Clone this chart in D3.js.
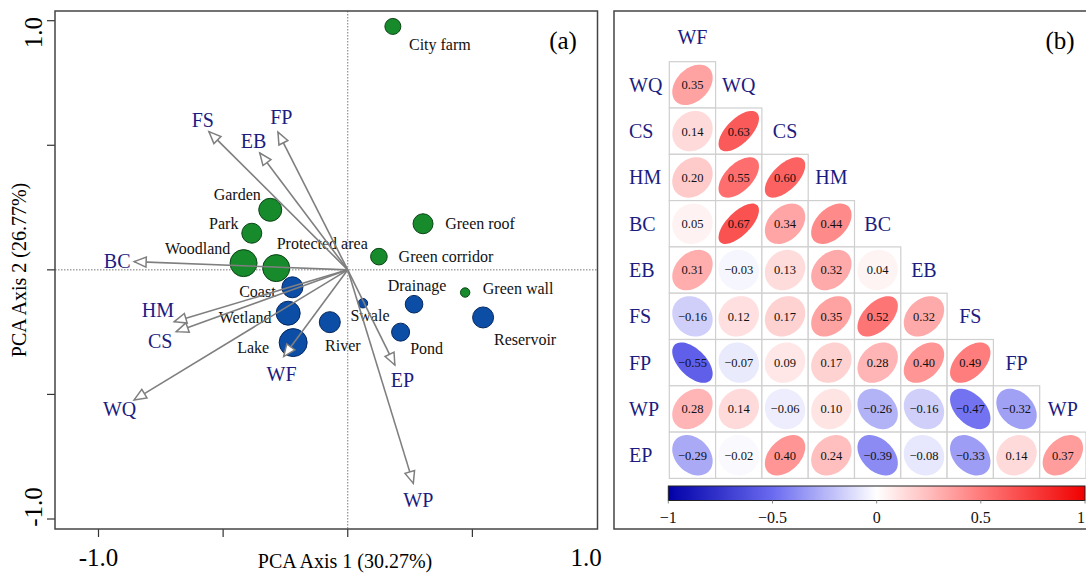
<!DOCTYPE html>
<html>
<head>
    <meta charset="utf-8">
    <title>PCA biplot and correlation matrix</title>
    <script src="https://cdn.jsdelivr.net/npm/d3@7/dist/d3.min.js"></script>
    <style>
        body { margin: 0; background: #fff; }
        text { font-family: "Liberation Serif", "Times New Roman", serif; }
    </style>
</head>
<body>
<script>
    // ---- panel (a): PCA sites ----
    var sites    = ["City farm", "Garden", "Park", "Woodland", "Protected area", "Green roof", "Green corridor", "Green wall",
                    "Coast", "Wetland", "Lake", "River", "Swale", "Drainage", "Pond", "Reservoir"];
    var sitePC1  = [0.181, -0.311, -0.385, -0.418, -0.287, 0.302, 0.125, 0.471,
                    -0.222, -0.239, -0.219, -0.072, 0.061, 0.266, 0.212, 0.543];
    var sitePC2  = [0.977, 0.241, 0.147, 0.027, 0.007, 0.185, 0.053, -0.091,
                    -0.070, -0.174, -0.292, -0.210, -0.134, -0.138, -0.250, -0.191];
    var siteSize = [8, 11.5, 10, 13.5, 13.5, 10, 8.3, 4.7,
                    10.5, 12, 14, 10.5, 4.7, 8.8, 9, 10.5];
    var siteType = ["green", "green", "green", "green", "green", "green", "green", "green",
                    "blue", "blue", "blue", "blue", "blue", "blue", "blue", "blue"];

    // ---- panel (a): variable loadings ----
    var loadVars = ["FS", "EB", "FP", "BC", "HM", "CS", "WQ", "WF", "EP", "WP"];
    var loadPC1  = [-0.557, -0.353, -0.280, -0.857, -0.696, -0.688, -0.857, -0.257, 0.189, 0.263];
    var loadPC2  = [0.555, 0.469, 0.553, 0.033, -0.208, -0.248, -0.522, -0.348, -0.382, -0.857];

    var pcaTicks = [-1, -0.5, 0, 0.5, 1];

    // ---- panel (b): correlations (lower triangle) ----
    var corrCols = ["WF", "WQ", "CS", "HM", "BC", "EB", "FS", "FP", "WP"];
    var corrRows = ["WQ", "CS", "HM", "BC", "EB", "FS", "FP", "WP", "EP"];
    var corrVals = [
        [0.35],
        [0.14, 0.63],
        [0.20, 0.55, 0.60],
        [0.05, 0.67, 0.34, 0.44],
        [0.31, -0.03, 0.13, 0.32, 0.04],
        [-0.16, 0.12, 0.17, 0.35, 0.52, 0.32],
        [-0.55, -0.07, 0.09, 0.17, 0.28, 0.40, 0.49],
        [0.28, 0.14, -0.06, 0.10, -0.26, -0.16, -0.47, -0.32],
        [-0.29, -0.02, 0.40, 0.24, -0.39, -0.08, -0.33, 0.14, 0.37]
    ];
    var cbTicks = [-1, -0.5, 0, 0.5, 1];

    // label placement tweaks (px), layout only
    var siteLabelOff = {
        "City farm": [47, 18], "Garden": [-33, -15], "Park": [-28, -10], "Woodland": [-46, -15],
        "Protected area": [46, -25], "Green roof": [57, 0], "Green corridor": [67, 0], "Green wall": [53, -4],
        "Coast": [-35, 4], "Wetland": [-43, 4], "Lake": [-40, 5], "River": [13, 23],
        "Swale": [7, 12], "Drainage": [3, -19], "Pond": [26, 16], "Reservoir": [42, 22]
    };
    var varLabelNudge = { FS: [6, 0], EB: [4, 2], FP: [11, 0], HM: [0, -17], CS: [0, 4], WF: [8, 4] };

    var navy = "#1c1c80";
    var W = 1086, H = 574;

    var svg = d3.select("body").append("svg")
        .attr("width", W)
        .attr("height", H);

    svg.append("rect").attr("width", W).attr("height", H).attr("fill", "#fff");

    // =================== (a) ===================
    var x = d3.scaleLinear().domain([-1, 1]).range([98.5, 597]);
    var y = d3.scaleLinear().domain([-1, 1]).range([519, 20.7]);
    var rScale = d3.scaleLinear().domain([0, 14]).range([0, 14]);
    var frameA = { x0: 55, y0: 11, x1: 597.5, y1: 529 };

    var ga = svg.append("g");

    // zero lines
    ga.append("line")
        .attr("x1", x(0)).attr("x2", x(0)).attr("y1", frameA.y0).attr("y2", frameA.y1)
        .attr("stroke", "#777").attr("stroke-width", 1).attr("stroke-dasharray", "1.5,1.5");
    ga.append("line")
        .attr("y1", y(0)).attr("y2", y(0)).attr("x1", frameA.x0).attr("x2", frameA.x1)
        .attr("stroke", "#777").attr("stroke-width", 1).attr("stroke-dasharray", "1.5,1.5");

    // ticks
    ga.selectAll(".xt").data(pcaTicks.slice(0, 4)).enter().append("line")
        .attr("x1", function (d) { return x(d); }).attr("x2", function (d) { return x(d); })
        .attr("y1", frameA.y1).attr("y2", frameA.y1 + 8)
        .attr("stroke", "#333").attr("stroke-width", 1.2);
    ga.selectAll(".yt").data(pcaTicks).enter().append("line")
        .attr("y1", function (d) { return y(d); }).attr("y2", function (d) { return y(d); })
        .attr("x1", frameA.x0).attr("x2", frameA.x0 - 8)
        .attr("stroke", "#333").attr("stroke-width", 1.2);

    // tick labels (only the ends, pulled inward like base R)
    ga.append("text").attr("x", x(-1)).attr("y", 557).attr("dy", "0.35em")
        .attr("text-anchor", "middle").attr("font-size", 25).text("-1.0");
    ga.append("text").attr("x", x(1) - 11).attr("y", 557).attr("dy", "0.35em")
        .attr("text-anchor", "middle").attr("font-size", 25).text("1.0");
    ga.append("text").attr("transform", "translate(33," + (y(1) + 12) + ") rotate(-90)")
        .attr("dy", "0.35em").attr("text-anchor", "middle").attr("font-size", 25).text("1.0");
    ga.append("text").attr("transform", "translate(33," + (y(-1) - 12) + ") rotate(-90)")
        .attr("dy", "0.35em").attr("text-anchor", "middle").attr("font-size", 25).text("-1.0");

    // axis titles
    ga.append("text").attr("x", 345).attr("y", 561).attr("dy", "0.35em")
        .attr("text-anchor", "middle").attr("font-size", 20).text("PCA Axis 1 (30.27%)");
    ga.append("text").attr("transform", "translate(19,270) rotate(-90)")
        .attr("dy", "0.35em").attr("text-anchor", "middle").attr("font-size", 20).text("PCA Axis 2 (26.77%)");

    // sites
    var siteData = sites.map(function (s, i) {
        return { name: s, pc1: sitePC1[i], pc2: sitePC2[i], size: siteSize[i], type: siteType[i] };
    });
    var fillOf = { green: "#178a2c", blue: "#0c4ea6" };
    var strokeOf = { green: "#0b4416", blue: "#06275e" };

    ga.selectAll("circle.site").data(siteData).enter().append("circle")
        .attr("class", "site")
        .attr("cx", function (d) { return x(d.pc1); })
        .attr("cy", function (d) { return y(d.pc2); })
        .attr("r", function (d) { return rScale(d.size); })
        .attr("fill", function (d) { return fillOf[d.type]; })
        .attr("stroke", function (d) { return strokeOf[d.type]; })
        .attr("stroke-width", 1);

    ga.selectAll("text.site").data(siteData).enter().append("text")
        .attr("class", "site")
        .attr("x", function (d) { return x(d.pc1) + siteLabelOff[d.name][0]; })
        .attr("y", function (d) { return y(d.pc2) + siteLabelOff[d.name][1]; })
        .attr("dy", "0.35em")
        .attr("text-anchor", "middle")
        .attr("font-size", 16)
        .attr("fill", "#111")
        .text(function (d) { return d.name; });

    // loading arrows
    var loadData = loadVars.map(function (v, i) { return { name: v, pc1: loadPC1[i], pc2: loadPC2[i] }; });
    var ox = x(0), oy = y(0);
    var arrowCol = "#7f7f7f";

    var arr = ga.selectAll("g.arrow").data(loadData).enter().append("g").attr("class", "arrow");
    arr.append("line")
        .attr("x1", ox).attr("y1", oy)
        .attr("x2", function (d) { return x(d.pc1); })
        .attr("y2", function (d) { return y(d.pc2); })
        .attr("stroke", arrowCol).attr("stroke-width", 1.6);
    arr.append("path")
        .attr("d", function (d) {
            var tx = x(d.pc1), ty = y(d.pc2);
            var dx = tx - ox, dy = ty - oy, L = Math.sqrt(dx * dx + dy * dy);
            var ux = dx / L, uy = dy / L, hl = 12, hw = 5;
            var bx = tx - ux * hl, by = ty - uy * hl;
            return "M" + tx + "," + ty +
                "L" + (bx - uy * hw) + "," + (by + ux * hw) +
                "L" + (bx + uy * hw) + "," + (by - ux * hw) + "Z";
        })
        .attr("fill", "#fff").attr("stroke", arrowCol).attr("stroke-width", 1.5);
    arr.append("text")
        .attr("x", function (d) {
            var tx = x(d.pc1), ty = y(d.pc2), dx = tx - ox, dy = ty - oy, L = Math.sqrt(dx * dx + dy * dy);
            var n = varLabelNudge[d.name] || [0, 0];
            return tx + dx / L * 17 + n[0];
        })
        .attr("y", function (d) {
            var tx = x(d.pc1), ty = y(d.pc2), dx = tx - ox, dy = ty - oy, L = Math.sqrt(dx * dx + dy * dy);
            var n = varLabelNudge[d.name] || [0, 0];
            return ty + dy / L * 17 + n[1];
        })
        .attr("dy", "0.35em").attr("text-anchor", "middle")
        .attr("font-size", 20).attr("fill", navy)
        .text(function (d) { return d.name; });

    // frame a
    ga.append("rect")
        .attr("x", frameA.x0).attr("y", frameA.y0)
        .attr("width", frameA.x1 - frameA.x0).attr("height", frameA.y1 - frameA.y0)
        .attr("fill", "none").attr("stroke", "#444").attr("stroke-width", 1.5);
    ga.append("text").attr("x", 563).attr("y", 40).attr("dy", "0.35em")
        .attr("text-anchor", "middle").attr("font-size", 25).text("(a)");

    // =================== (b) ===================
    var gb = svg.append("g");
    var cs = 46.3, gx0 = 669.3, gy0 = 61.7;
    var colX = d3.scaleBand().domain(corrCols).range([gx0, gx0 + cs * corrCols.length]);
    var rowY = d3.scaleBand().domain(corrRows).range([gy0, gy0 + cs * corrRows.length]);
    var color = d3.scaleLinear()
        .domain([-1, -0.5, 0, 0.5, 1])
        .range(["#0000a8", "#6a6af0", "#ffffff", "#ff7a7a", "#f00000"]);
    var fmt = d3.format(".2f");

    var cells = [];
    corrVals.forEach(function (row, r) {
        row.forEach(function (v, c) {
            cells.push({ row: corrRows[r], col: corrCols[c], v: v });
        });
    });

    function ellipsePath(r, cx, cy, k) {
        var d = Math.acos(r), pts = [];
        for (var i = 0; i <= 72; i++) {
            var t = i / 72 * 2 * Math.PI;
            pts.push([cx + k * Math.cos(t + d / 2), cy - k * Math.cos(t - d / 2)]);
        }
        return d3.line()(pts) + "Z";
    }

    gb.selectAll("rect.cell").data(cells).enter().append("rect")
        .attr("class", "cell")
        .attr("x", function (d) { return colX(d.col); })
        .attr("y", function (d) { return rowY(d.row); })
        .attr("width", cs).attr("height", cs)
        .attr("fill", "#fff").attr("stroke", "#cfcfcf").attr("stroke-width", 1.2);

    gb.selectAll("path.ell").data(cells).enter().append("path")
        .attr("class", "ell")
        .attr("d", function (d) {
            return ellipsePath(d.v, colX(d.col) + cs / 2, rowY(d.row) + cs / 2, 20.2);
        })
        .attr("fill", function (d) { return color(d.v); });

    gb.selectAll("text.val").data(cells).enter().append("text")
        .attr("class", "val")
        .attr("x", function (d) { return colX(d.col) + cs / 2; })
        .attr("y", function (d) { return rowY(d.row) + cs / 2; })
        .attr("dy", "0.35em").attr("text-anchor", "middle")
        .attr("font-size", 12.5).attr("fill", "#111")
        .text(function (d) { return fmt(d.v); });

    // row labels
    gb.selectAll("text.rl").data(corrRows).enter().append("text")
        .attr("class", "rl")
        .attr("x", 629)
        .attr("y", function (d) { return rowY(d) + cs / 2; })
        .attr("dy", "0.35em").attr("font-size", 20).attr("fill", navy)
        .text(function (d) { return d; });

    // diagonal labels
    gb.selectAll("text.dl").data(corrCols).enter().append("text")
        .attr("class", "dl")
        .attr("x", function (d) { return colX(d) + cs / 2; })
        .attr("y", function (d, i) { return gy0 + (i - 1) * cs + cs / 2 - (i === 0 ? 2 : 0); })
        .attr("dy", "0.35em").attr("text-anchor", "middle").attr("font-size", 20).attr("fill", navy)
        .text(function (d) { return d; });

    // colour bar
    var cbX = d3.scaleLinear().domain([-1, 1]).range([668.3, 1085]);
    var grad = svg.append("defs").append("linearGradient").attr("id", "cbgrad");
    d3.range(0, 41).forEach(function (i) {
        var v = -1 + i / 20;
        grad.append("stop").attr("offset", (i / 40 * 100) + "%").attr("stop-color", color(v));
    });
    gb.append("rect")
        .attr("x", cbX(-1)).attr("y", 486).attr("width", cbX(1) - cbX(-1)).attr("height", 14.5)
        .attr("fill", "url(#cbgrad)").attr("stroke", "#222").attr("stroke-width", 1);
    gb.selectAll("line.cbt").data(cbTicks).enter().append("line")
        .attr("x1", function (d) { return cbX(d); }).attr("x2", function (d) { return cbX(d); })
        .attr("y1", 500.5).attr("y2", 503.5).attr("stroke", "#888").attr("stroke-width", 1);
    gb.selectAll("text.cbl").data(cbTicks).enter().append("text")
        .attr("x", function (d) { return d === 1 ? cbX(d) - 4 : cbX(d); })
        .attr("y", 517).attr("dy", "0.35em").attr("text-anchor", "middle")
        .attr("font-size", 16).attr("fill", "#111")
        .text(function (d) { return d3.format("")(d); });

    // frame b
    gb.append("rect")
        .attr("x", 614).attr("y", 11).attr("width", 480).attr("height", 518)
        .attr("fill", "none").attr("stroke", "#444").attr("stroke-width", 1.5);
    gb.append("text").attr("x", 1060).attr("y", 40).attr("dy", "0.35em")
        .attr("text-anchor", "middle").attr("font-size", 25).text("(b)");
</script>
</body>
</html>
